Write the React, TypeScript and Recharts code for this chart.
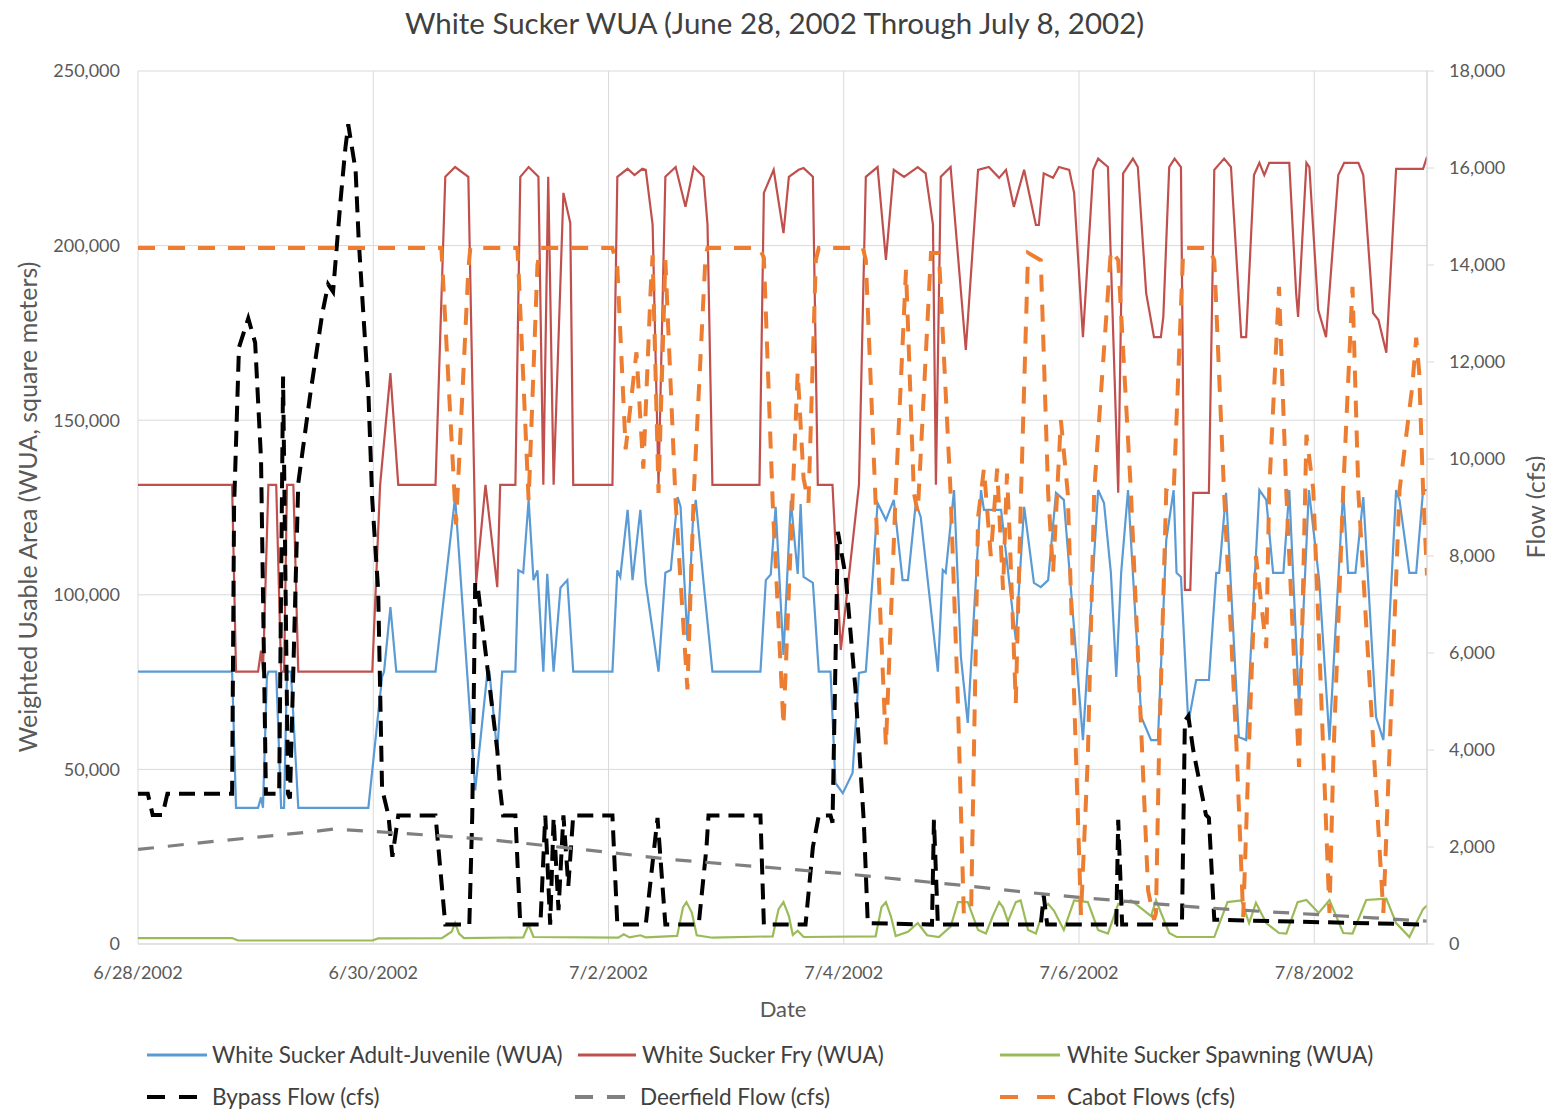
import React from 'react';
import { LineChart, Line, XAxis, YAxis, CartesianGrid } from 'recharts';

// Time is measured in hours from 6/28/2002 00:00.
const dateTickHours = [0, 48, 96, 144, 192, 240];
const dateTickLabels = ['6/28/2002', '6/30/2002', '7/2/2002', '7/4/2002', '7/6/2002', '7/8/2002'];
const wuaTicks = [0, 50000, 100000, 150000, 200000, 250000];
const flowTicks = [0, 2000, 4000, 6000, 8000, 10000, 12000, 14000, 16000, 18000];

type Pt = [number, number];

// White Sucker Adult-Juvenile WUA (square meters)
const adultJuvenile: Pt[] = [
  [0, 78000], [19.2, 78000], [20.0, 39000], [24.5, 39000], [25.1, 42000], [25.5, 39000], [26.3, 76500], [26.6, 78000],
  [28.2, 78000], [29.2, 39000], [29.8, 39000], [30.4, 78000], [31.2, 78000], [32.7, 39000], [47.0, 39000], [49.8, 76500],
  [50.2, 78000], [51.5, 96500], [52.7, 78000], [60.7, 78000], [64.7, 128000], [68.8, 44000], [71.3, 78000], [71.7, 78000],
  [73.3, 54700], [74.3, 78000], [77.0, 78000], [77.6, 107000], [78.6, 106300], [79.7, 127200], [80.7, 104200], [81.5, 107000],
  [82.7, 78000], [83.5, 106000], [84.8, 78000], [86.2, 102000], [87.6, 104200], [88.8, 78000], [96.8, 78000], [97.8, 107000],
  [98.4, 105100], [99.9, 124300], [100.9, 104200], [102.5, 124300], [103.6, 103400], [106.2, 78000], [107.6, 106300],
  [108.7, 107100], [110.1, 128000], [110.7, 125200], [112.1, 87100], [113.2, 120600], [113.8, 127200], [115.4, 103400],
  [117.2, 78000], [127.0, 78000], [128.1, 104200], [129.1, 105800], [130.1, 125200], [131.7, 82800], [133.2, 127000],
  [134.6, 106000], [135.2, 126000], [135.8, 105100], [137.7, 103400], [138.9, 78000], [141.3, 78000], [142.3, 46100],
  [143.8, 43200], [145.8, 49000], [147.1, 77600], [148.5, 78000], [149.9, 105100], [150.9, 126300], [152.6, 121400],
  [154.2, 127200], [156.0, 104200], [157.1, 104200], [158.7, 126300], [159.7, 122300], [163.2, 78000], [164.2, 107100],
  [164.8, 106300], [166.5, 130000], [167.9, 82200], [169.3, 63300], [172.0, 130000], [172.6, 124300], [176.1, 124300],
  [179.1, 87100], [180.8, 125200], [182.8, 103400], [184.2, 102200], [185.7, 104200], [187.3, 129200], [188.9, 127200],
  [192.8, 58400], [195.9, 130000], [197.1, 126300], [198.5, 106300], [199.6, 76500], [200.6, 106300], [202.0, 130000],
  [204.7, 65000], [206.7, 58400], [208.1, 58400], [209.8, 115700], [211.3, 130000], [211.9, 106300], [212.8, 105100],
  [214.3, 63300], [215.9, 75600], [218.5, 75600], [220.0, 106300], [220.6, 106300], [222.0, 129200], [224.6, 59300],
  [226.1, 58400], [228.8, 130000], [230.2, 127200], [231.6, 106300], [233.7, 106300], [234.9, 130000], [236.9, 67900],
  [238.9, 130000], [241.0, 104200], [243.1, 58400], [245.9, 130000], [246.9, 106300], [248.4, 106300], [250.0, 128000],
  [252.6, 65000], [254.1, 58400], [256.7, 130000], [257.4, 127000], [259.4, 106300], [260.8, 106300], [262.2, 130000],
  [263, 130000],
];

// White Sucker Fry WUA (square meters)
const fry: Pt[] = [
  [0, 131500], [19.2, 131500], [20.0, 78000], [24.5, 78000], [25.1, 84000], [25.5, 78000], [26.6, 131500], [28.2, 131500],
  [29.2, 78000], [29.8, 78000], [30.4, 131500], [31.7, 131500], [32.7, 78000], [47.8, 78000], [49.4, 131500], [51.5, 163500],
  [53.1, 131500], [60.7, 131500], [62.7, 219700], [64.7, 222500], [67.4, 219700], [69.0, 103400], [70.9, 131500],
  [73.3, 102200], [73.9, 131500], [77.0, 131500], [78.0, 219700], [79.7, 222500], [81.7, 219700], [82.7, 131500],
  [83.7, 219700], [84.8, 131500], [86.8, 215100], [88.2, 206500], [88.8, 131500], [96.8, 131500], [97.8, 219700],
  [99.9, 222000], [101.3, 220200], [102.9, 222000], [103.6, 221700], [105.0, 206000], [106.2, 131500], [107.6, 219700],
  [109.7, 222500], [111.7, 211100], [113.4, 222500], [115.4, 219700], [116.2, 206000], [117.2, 131500], [126.8, 131500],
  [127.7, 215100], [129.7, 221700], [131.7, 203600], [132.8, 219700], [134.8, 221700], [135.8, 222200], [137.7, 219700],
  [138.7, 131500], [141.7, 131500], [143.4, 84200], [147.1, 131500], [148.5, 219700], [150.9, 222500], [152.6, 195900],
  [154.2, 221700], [156.3, 219700], [159.1, 222500], [160.7, 220700], [162.2, 206000], [162.8, 131500], [163.8, 219700],
  [165.8, 222500], [168.9, 170100], [171.4, 221700], [173.6, 222500], [175.7, 219400], [177.1, 221700], [178.7, 211100],
  [180.8, 221700], [183.2, 205900], [183.8, 205900], [184.8, 220700], [186.7, 219400], [187.9, 222500], [190.0, 221700],
  [191.0, 215100], [192.8, 173800], [194.9, 221700], [195.9, 224900], [197.9, 222500], [200.0, 129200], [201.0, 220700],
  [203.0, 224900], [204.0, 222500], [205.7, 186400], [207.3, 173800], [208.7, 173800], [209.2, 179600], [210.4, 222500],
  [211.5, 224900], [212.8, 222500], [213.6, 101400], [214.7, 101400], [215.3, 129200], [218.5, 129200], [219.6, 221700],
  [221.6, 224900], [223.0, 222500], [225.1, 173800], [226.1, 173800], [227.7, 220200], [228.8, 223700], [229.8, 220200],
  [230.8, 223700], [234.9, 223700], [236.3, 186400], [236.7, 179600], [238.4, 223700], [239.0, 222500], [240.8, 181600],
  [242.4, 173800], [244.9, 220200], [246.1, 223700], [249.0, 223700], [250.0, 220200], [252.0, 180700], [253.1, 178700],
  [254.7, 169300], [256.7, 222000], [262.2, 222000], [263, 225400],
];

// White Sucker Spawning WUA (square meters)
const spawning: Pt[] = [
  [0, 1700], [19.2, 1700], [20.4, 1000], [47.8, 1000], [49.0, 1600], [62.0, 1700], [64.0, 3500], [64.7, 6000], [65.5, 3000],
  [66.5, 1700], [78.6, 1900], [79.7, 5500], [80.7, 2000], [98.0, 1800], [99.1, 2800], [100.3, 1900], [102.5, 2500],
  [103.6, 1900], [110.0, 2300], [111.2, 10500], [111.9, 12000], [113.0, 9000], [114.0, 2500], [117.2, 1800], [129.5, 2200],
  [130.7, 10000], [131.7, 12000], [132.8, 8000], [133.6, 2600], [134.6, 3800], [135.8, 2000], [150.5, 2200], [151.7, 10500],
  [152.6, 12000], [153.6, 8000], [154.6, 2300], [157.1, 3500], [159.1, 6000], [161.0, 2500], [163.4, 2000], [165.8, 5000],
  [167.3, 12000], [169.3, 12000], [171.4, 4000], [173.0, 3000], [174.4, 8000], [175.7, 12000], [176.5, 10500], [177.5, 6500],
  [179.1, 12000], [180.1, 12500], [181.6, 4000], [183.2, 3000], [184.8, 10000], [185.7, 11500], [186.9, 9500], [188.9, 4000],
  [191.0, 12500], [193.8, 12000], [195.9, 4000], [197.9, 3000], [200.0, 11500], [202.6, 12500], [204.0, 11000],
  [206.7, 8000], [207.7, 12500], [210.4, 3150], [211.9, 2000], [219.6, 2000], [222.3, 12000], [225.1, 12500], [226.7, 6000],
  [228.1, 11800], [230.2, 6000], [232.8, 3150], [234.3, 3000], [236.6, 12000], [238.4, 12600], [240.9, 8900],
  [243.1, 12600], [245.9, 3150], [247.8, 3000], [250.6, 12600], [254.7, 13000], [256.7, 6000], [259.4, 2000],
  [262.2, 10000], [263, 11000],
];

// Bypass flow (cfs)
const bypassFlow: Pt[] = [
  [0, 3100], [2.0, 3100], [3.0, 2660], [5.0, 2660], [6.0, 3100], [19.2, 3100], [19.6, 9000], [20.6, 12300], [22.5, 12900],
  [23.9, 12400], [25.1, 10000], [26.1, 3100], [28.8, 3100], [29.6, 11700], [30.6, 3100], [31.0, 3000], [32.7, 9500],
  [35.1, 11300], [37.6, 13000], [38.8, 13600], [39.8, 13450], [41.3, 15300], [42.3, 16400], [42.9, 16900], [44.4, 15950],
  [45.0, 14580], [45.7, 13430], [47.0, 11380], [47.8, 9150], [49.0, 7300], [49.8, 3200], [51.1, 2650], [51.9, 1800],
  [53.1, 2650], [60.7, 2650], [62.7, 400], [67.6, 400], [68.2, 2650], [68.8, 7450], [69.4, 7300], [73.3, 4000],
  [73.9, 3175], [74.5, 2650], [77.0, 2650], [78.0, 400], [82.1, 400], [83.1, 2650], [84.1, 400], [84.8, 2600], [85.8, 700],
  [86.8, 2650], [87.8, 1200], [88.8, 2650], [96.8, 2650], [97.8, 400], [103.6, 400], [106.0, 2600], [107.6, 400],
  [114.4, 400], [116.0, 2000], [116.4, 2650], [127.0, 2650], [127.7, 400], [136.2, 400], [137.7, 2000], [138.9, 2650],
  [141.3, 2650], [141.7, 2500], [142.8, 8500], [144.4, 7570], [146.4, 5240], [148.1, 2500], [148.9, 430], [162.0, 400],
  [162.4, 2560], [163.2, 400], [184.2, 400], [184.8, 1000], [185.5, 400], [199.6, 400], [200.0, 2560], [200.8, 400],
  [213.0, 400], [213.6, 4600], [214.3, 4700], [215.3, 4000], [217.9, 2660], [218.5, 2600], [219.6, 500], [263, 400],
];

// Deerfield flow (cfs)
const deerfieldFlow: Pt[] = [
  [0, 1950], [12, 2080], [24, 2200], [36, 2320], [40, 2370], [48, 2320], [60, 2240], [72, 2150], [84, 2020], [96, 1890],
  [108, 1750], [120, 1650], [132, 1550], [144, 1450], [156, 1330], [168, 1210], [180, 1080], [192, 960], [204, 860],
  [216, 760], [228, 680], [240, 610], [252, 540], [263, 470],
];

// Cabot flows (cfs)
const cabotFlows: Pt[] = [
  [0, 14350], [61.9, 14350], [64.9, 8650], [67.4, 13900], [67.8, 14350], [77.4, 14350], [77.6, 14000], [79.7, 9150],
  [81.5, 14000], [82.1, 14350], [96.8, 14350], [97.8, 13950], [99.5, 10200], [101.7, 12200], [103.1, 9800], [104.6, 13500],
  [105.0, 14200], [106.2, 9300], [107.6, 14100], [109.7, 9100], [112.1, 5250], [113.4, 9300], [115.8, 14200],
  [116.2, 14350], [126.8, 14350], [127.7, 14150], [129.5, 9100], [131.7, 4500], [133.6, 9300], [134.6, 11800],
  [135.8, 9600], [136.8, 9100], [138.3, 14100], [138.9, 14350], [147.9, 14350], [148.5, 14100], [150.5, 9100],
  [152.6, 4080], [154.6, 9300], [156.7, 13900], [158.3, 9300], [159.1, 8900], [161.8, 14250], [163.4, 14250],
  [165.8, 9300], [167.3, 4950], [168.5, 600], [170.0, 760], [171.4, 8800], [172.6, 9800], [174.0, 8000], [175.3, 9800],
  [176.5, 7300], [177.3, 9700], [177.9, 8300], [179.1, 4970], [180.1, 9050], [181.6, 14250], [184.2, 14100],
  [185.7, 9300], [186.7, 7650], [188.3, 10800], [189.7, 9300], [192.4, 600], [193.8, 3850], [195.1, 9350],
  [198.5, 14300], [200.0, 14100], [202.6, 9300], [206.1, 1100], [207.3, 500], [207.7, 640], [208.3, 3850], [209.8, 9350],
  [211.3, 9300], [213.2, 14150], [213.6, 14350], [218.5, 14350], [219.6, 14100], [221.6, 9300], [224.1, 4150],
  [225.5, 560], [226.7, 4150], [228.1, 8000], [230.2, 6100], [230.8, 9350], [232.8, 13550], [234.3, 9300], [236.9, 3650],
  [238.4, 10500], [239.8, 9360], [243.1, 640], [243.9, 3850], [245.9, 9350], [247.8, 13550], [249.0, 9300], [254.1, 640],
  [255.3, 3850], [257.4, 9360], [260.0, 11500], [260.8, 12500], [261.4, 11800], [262.2, 9360], [263, 7600],
];

const toRows = (pts: Pt[]) => pts.map(([t, v]) => ({ t, v }));

type Series = {
  name: string;
  pts: Pt[];
  color: string;
  width: number;
  dash?: string;
  legendDash?: string;
  axis: 'wua' | 'cfs';
};

const series: Series[] = [
  { name: 'White Sucker Adult-Juvenile (WUA)', pts: adultJuvenile, color: '#5B9BD5', width: 2.2, axis: 'wua' },
  { name: 'White Sucker Fry (WUA)', pts: fry, color: '#C0504D', width: 2.2, axis: 'wua' },
  { name: 'White Sucker Spawning (WUA)', pts: spawning, color: '#9BBB59', width: 2.2, axis: 'wua' },
  { name: 'Bypass Flow (cfs)', pts: bypassFlow, color: '#000000', width: 4, dash: '16 9', legendDash: '18 14', axis: 'cfs' },
  { name: 'Deerfield Flow (cfs)', pts: deerfieldFlow, color: '#808080', width: 3.2, dash: '16 14', legendDash: '18 14', axis: 'cfs' },
  { name: 'Cabot Flows (cfs)', pts: cabotFlows, color: '#ED7D31', width: 4, dash: '17 13', legendDash: '18 19', axis: 'cfs' },
];

const W = 1545;
const H = 1106;
const FONT = 'Lato, "Open Sans", sans-serif';
const TEXT = '#595959';

const fmt = (v: number) => v.toLocaleString('en-US');

// Legend layout: [line start, line end, text x, row y]
const legendSlots: [number, number, number, number][] = [
  [139, 199, 204, 27],
  [570, 628, 634, 27],
  [992, 1052, 1059, 27],
  [139, 189, 204, 69],
  [567, 617, 632, 69],
  [992, 1047, 1059, 69],
];

export default function App() {
  return (
    <div style={{ position: 'relative', width: W, height: H, fontFamily: FONT, background: '#fff' }}>
      <LineChart width={W} height={H} margin={{ top: 63, right: 0, bottom: 130, left: 0 }}>
        <CartesianGrid yAxisId="wua" stroke="#d9d9d9" strokeWidth={1} />
        <XAxis
          dataKey="t"
          type="number"
          domain={[0, 263]}
          ticks={dateTickHours}
          tickFormatter={(h: number) => dateTickLabels[dateTickHours.indexOf(h)]}
          axisLine={{ stroke: '#d9d9d9' }}
          tickLine={false}
          tickSize={8}
          tickMargin={14}
          height={40}
          allowDataOverflow
          tick={{ fill: TEXT, fontSize: 18, fontFamily: FONT }}
        />
        <YAxis
          yAxisId="wua"
          domain={[0, 250000]}
          ticks={wuaTicks}
          tickFormatter={fmt}
          axisLine={false}
          tickLine={false}
          tickSize={6}
          tickMargin={12}
          width={130}
          tick={{ fill: TEXT, fontSize: 18, fontFamily: FONT }}
        />
        <YAxis
          yAxisId="cfs"
          orientation="right"
          domain={[0, 18000]}
          ticks={flowTicks}
          tickFormatter={fmt}
          axisLine={{ stroke: '#d9d9d9' }}
          tickLine={{ stroke: '#d9d9d9' }}
          tickSize={7}
          tickMargin={15}
          width={126}
          tick={{ fill: TEXT, fontSize: 18, fontFamily: FONT }}
        />
        {series.map((s) => (
          <Line
            key={s.name}
            name={s.name}
            data={toRows(s.pts)}
            dataKey="v"
            yAxisId={s.axis}
            type="linear"
            stroke={s.color}
            strokeWidth={s.width}
            strokeDasharray={s.dash}
            dot={false}
            activeDot={false}
            isAnimationActive={false}
          />
        ))}
      </LineChart>

      <div
        style={{
          position: 'absolute', left: 0, top: -1, width: W, textAlign: 'center',
          fontSize: 29.5, lineHeight: '32px', color: '#404040', marginLeft: -6,
        }}
      >
        White Sucker WUA (June 28, 2002 Through July 8, 2002)
      </div>

      <div
        style={{
          position: 'absolute', left: 19, top: 499, transform: 'translate(-50%, -50%) rotate(-90deg)',
          whiteSpace: 'nowrap', fontSize: 25, color: TEXT,
        }}
      >
        Weighted Usable Area (WUA, square meters)
      </div>

      <div
        style={{
          position: 'absolute', left: 1527, top: 499, transform: 'translate(-50%, -50%) rotate(-90deg)',
          whiteSpace: 'nowrap', fontSize: 25, color: TEXT,
        }}
      >
        Flow (cfs)
      </div>

      <div
        style={{
          position: 'absolute', left: 775, top: 1000, transform: 'translate(-50%, -50%)',
          whiteSpace: 'nowrap', fontSize: 22, color: TEXT,
        }}
      >
        Date
      </div>

      <svg style={{ position: 'absolute', left: 0, top: 1020 }} width={W} height={86}>
        {series.map((s, i) => {
          const [x1, x2, tx, y] = legendSlots[i];
          return (
            <g key={s.name}>
              <line x1={x1} x2={x2} y1={y} y2={y} stroke={s.color} strokeWidth={s.dash ? 4 : 3} strokeDasharray={s.legendDash} />
              <text x={tx} y={y} dy="0.35em" fontSize={22.5} fill="#404040" fontFamily={FONT}>
                {s.name}
              </text>
            </g>
          );
        })}
      </svg>
    </div>
  );
}
